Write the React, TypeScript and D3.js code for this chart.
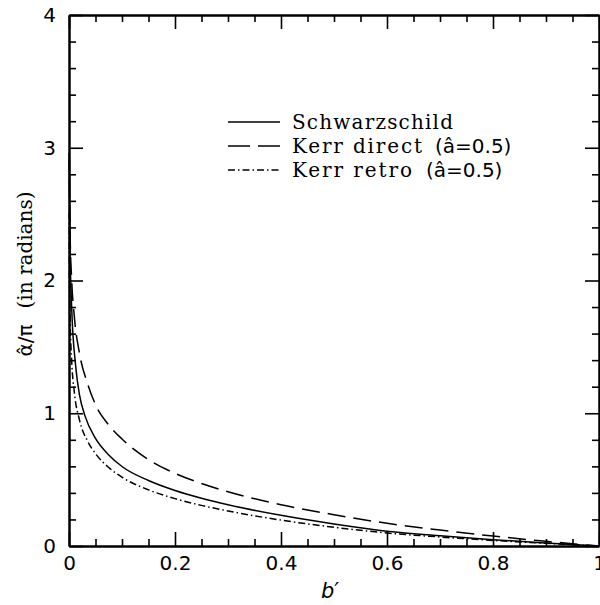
import React, { useEffect, useRef } from 'react';
import * as d3 from 'd3';

// b' vs alpha/pi
const schwarzB = [0.0005, 0.001, 0.002, 0.005, 0.0126, 0.02, 0.03, 0.05, 0.075, 0.1, 0.15, 0.2, 0.25, 0.3, 0.4, 0.5, 0.6, 0.7, 0.8, 0.9, 1.0];
const schwarzA = [2.96, 2.62, 2.24, 1.8, 1.355, 1.134, 0.982, 0.81, 0.686, 0.599, 0.493, 0.418, 0.36, 0.311, 0.231, 0.166, 0.112, 0.077, 0.048, 0.023, 0.0];

const directB = [0.0005, 0.001, 0.002, 0.005, 0.01, 0.02, 0.035, 0.05, 0.075, 0.1, 0.15, 0.2, 0.25, 0.3, 0.4, 0.5, 0.6, 0.7, 0.8, 0.9, 1.0];
const directA = [2.96, 2.66, 2.36, 2.01, 1.73, 1.447, 1.223, 1.065, 0.912, 0.806, 0.651, 0.547, 0.471, 0.409, 0.311, 0.236, 0.171, 0.12, 0.075, 0.035, 0.0];

const retroB = [0.0003, 0.001, 0.002, 0.005, 0.01, 0.02, 0.035, 0.05, 0.075, 0.1, 0.15, 0.2, 0.25, 0.3, 0.4, 0.5, 0.6, 0.7, 0.8, 0.9, 1.0];
const retroA = [2.51, 2.0, 1.74, 1.4, 1.16, 0.946, 0.791, 0.696, 0.591, 0.518, 0.423, 0.357, 0.306, 0.264, 0.195, 0.141, 0.098, 0.068, 0.042, 0.02, 0.0];

const xTickLabels = ['0', '0.2', '0.4', '0.6', '0.8', '1'];
const yTickLabels = ['0', '1', '2', '3', '4'];

const legendLabels = ['Schwarzschild', 'Kerr direct', 'Kerr retro'];
const legendParams = ['', '(â=0.5)', '(â=0.5)'];

const App = () => {
  const svgRef = useRef<SVGSVGElement>(null);

  useEffect(() => {
    const svg = d3.select(svgRef.current);
    const width = 600;
    const height = 605;
    const margin = { top: 15, right: 1, bottom: 59, left: 69 };
    const innerWidth = width - margin.left - margin.right;
    const innerHeight = height - margin.top - margin.bottom;

    const x = d3.scaleLinear().domain([0, 1]).range([0, innerWidth]);
    const y = d3.scaleLinear().domain([0, 4]).range([innerHeight, 0]);

    const g = svg.append('g').attr('transform', `translate(${margin.left},${margin.top})`);

    const xMajor = xTickLabels.map(Number);
    const yMajor = yTickLabels.map(Number);
    const xMinor = d3.range(0, 1.0001, 0.05).filter((v) => !xMajor.some((m) => Math.abs(m - v) < 1e-6));
    const yMinor = d3.range(0, 4.0001, 0.2).filter((v) => !yMajor.some((m) => Math.abs(m - v) < 1e-6));

    const style = (sel) => {
      sel.select('.domain').attr('stroke', '#000').attr('stroke-width', 2);
      sel.selectAll('.tick line').attr('stroke', '#000').attr('stroke-width', 1.6);
      sel.selectAll('.tick text')
        .attr('fill', '#000')
        .style('font-family', '"DejaVu Sans", sans-serif')
        .style('font-size', '20px');
    };

    // bottom
    g.append('g').attr('transform', `translate(0,${innerHeight})`)
      .call(d3.axisBottom(x).tickValues(xMajor).tickFormat((d, i) => xTickLabels[i]).tickSize(-14).tickSizeOuter(0).tickPadding(10))
      .call(style);
    g.append('g').attr('transform', `translate(0,${innerHeight})`)
      .call(d3.axisBottom(x).tickValues(xMinor).tickFormat(() => '').tickSize(-7).tickSizeOuter(0))
      .call(style);
    // top
    g.append('g')
      .call(d3.axisTop(x).tickValues(xMajor).tickFormat(() => '').tickSize(-14).tickSizeOuter(0))
      .call(style);
    g.append('g')
      .call(d3.axisTop(x).tickValues(xMinor).tickFormat(() => '').tickSize(-7).tickSizeOuter(0))
      .call(style);
    // left
    g.append('g')
      .call(d3.axisLeft(y).tickValues(yMajor).tickFormat((d, i) => yTickLabels[i]).tickSize(-14).tickSizeOuter(0).tickPadding(13))
      .call(style);
    g.append('g')
      .call(d3.axisLeft(y).tickValues(yMinor).tickFormat(() => '').tickSize(-7).tickSizeOuter(0))
      .call(style);
    // right
    g.append('g').attr('transform', `translate(${innerWidth},0)`)
      .call(d3.axisRight(y).tickValues(yMajor).tickFormat(() => '').tickSize(-14).tickSizeOuter(0))
      .call(style);
    g.append('g').attr('transform', `translate(${innerWidth},0)`)
      .call(d3.axisRight(y).tickValues(yMinor).tickFormat(() => '').tickSize(-7).tickSizeOuter(0))
      .call(style);

    const series = [
      { b: schwarzB, a: schwarzA, dash: null },
      { b: directB, a: directA, dash: '18,8' },
      { b: retroB, a: retroA, dash: '7,3,1.5,3' },
    ];

    const line = d3.line<[number, number]>()
      .x((d) => x(d[0]))
      .y((d) => y(d[1]))
      .curve(d3.curveMonotoneX);

    series.forEach((s) => {
      g.append('path')
        .datum(s.b.map((b, i) => [b, s.a[i]] as [number, number]))
        .attr('d', line)
        .attr('fill', 'none')
        .attr('stroke', '#000')
        .attr('stroke-width', 1.5)
        .attr('stroke-dasharray', s.dash);
    });

    // legend
    const legend = svg.append('g');
    const legendDash = [null, '22,8', '7,3,1.5,3'];
    const labelWidths = [161, 130, 120];
    const paramX = [0, 435, 426];
    legendLabels.forEach((label, i) => {
      const yy = 122 + i * 24;
      legend.append('line')
        .attr('x1', 228).attr('x2', 280)
        .attr('y1', yy).attr('y2', yy)
        .attr('stroke', '#000').attr('stroke-width', 1.5)
        .attr('stroke-dasharray', legendDash[i]);
      legend.append('text')
        .attr('x', 292).attr('y', yy + 7)
        .attr('textLength', labelWidths[i])
        .attr('lengthAdjust', 'spacing')
        .style('font-family', '"DejaVu Serif", serif')
        .style('font-size', '20px')
        .attr('fill', '#000')
        .text(label);
      if (legendParams[i]) {
        legend.append('text')
          .attr('x', paramX[i]).attr('y', yy + 7)
          .style('font-family', '"DejaVu Sans", sans-serif')
          .style('font-size', '20px')
          .attr('fill', '#000')
          .text(legendParams[i]);
      }
    });

    // axis titles
    svg.append('text')
      .attr('x', 330).attr('y', 598)
      .attr('text-anchor', 'middle')
      .style('font-family', '"DejaVu Sans", sans-serif')
      .style('font-style', 'italic')
      .style('font-size', '21px')
      .text('b′');

    const yt = svg.append('text')
      .attr('transform', 'translate(32,274) rotate(-90)')
      .attr('text-anchor', 'middle')
      .style('font-size', '20px')
      .attr('fill', '#000');
    yt.append('tspan').style('font-family', '"DejaVu Sans", sans-serif').text('α̂/π');
    yt.append('tspan').style('font-family', '"DejaVu Serif", serif').attr('dx', 16).text('(in radians)');

    return () => {
      svg.selectAll('*').remove();
    };
  }, []);

  return (
    <div style={{ position: 'absolute', left: 0, top: 0 }}>
      <svg ref={svgRef} width={600} height={605} style={{ display: 'block', background: '#fff' }}></svg>
    </div>
  );
};

export default App;
